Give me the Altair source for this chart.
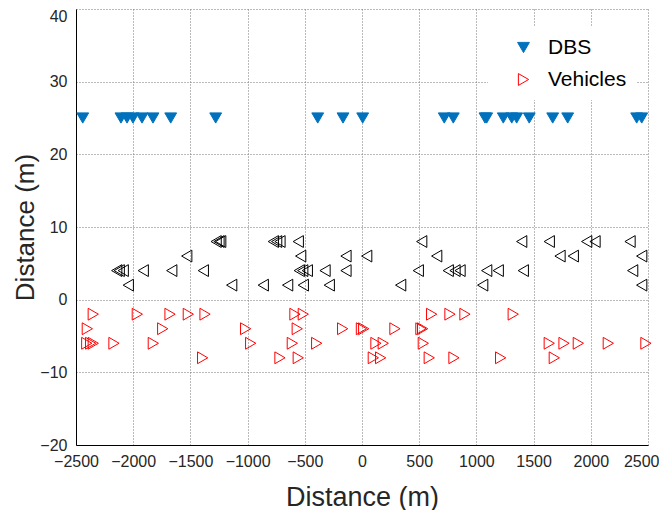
import altair as alt
import pandas as pd

# DBS positions (y = 25)
dbs_x = [-2441, -2107, -2054, -2002, -1923, -1827, -1672, -1279, -387, -166, 6,
         719, 798, 1075, 1090, 1235, 1309, 1352, 1462, 1667, 1798, 2401, 2445]
dbs_y = 25

# Black vehicles (left-pointing), by lane
left_lane8 = [-1275, -1250, -1235, -775, -746, -717, -557, 522, 1396, 1637, 1964, 2037, 2343]
left_lane6 = [-1532, -536, -140, 41, 653, 1731, 1847, 2445]
left_lane4 = [-2144, -2122, -2087, -1912, -1663, -1387, -548, -518, -478, -323, -140,
              492, 754, 813, 857, 1090, 1191, 1410, 2366]
left_lane2 = [-2043, -1139, -863, -650, -513, -286, 338, 1055, 2445]

# Red vehicles (right-pointing), by lane
right_lane2 = [-2349, -1964, -1678, -1518, -1372, -586, -513, 609, 769, 900, 1322]
right_lane4 = [-2401, -1742, -1017, -566, -169, -5, 15, 288, 515, 530]
right_lane6 = [-2406, -2372, -2349, -2168, -1824, -973, -609, -396, 122, 186, 536,
               1637, 1766, 1891, 2153, 2482]
right_lane8 = [-1393, -717, -557, 99, 163, 588, 804, 1212, 1681]

x_ticks = list(range(-2500, 2501, 500))
y_ticks = list(range(-20, 41, 10))

series = ["DBS", "Vehicles"]

main_rows = []
for v in dbs_x:
    main_rows.append({"x": v, "y": dbs_y, "series": "DBS"})
for lane, xs in [(-2, right_lane2), (-4, right_lane4), (-6, right_lane6), (-8, right_lane8)]:
    for v in xs:
        main_rows.append({"x": v, "y": lane, "series": "Vehicles"})
df_main = pd.DataFrame(main_rows)

left_rows = []
for lane, xs in [(8, left_lane8), (6, left_lane6), (4, left_lane4), (2, left_lane2)]:
    for v in xs:
        left_rows.append({"x": v, "y": lane})
df_left = pd.DataFrame(left_rows)

xscale = alt.Scale(domain=[-2500, 2500], nice=False)
yscale = alt.Scale(domain=[-20, 40], nice=False)

xenc = alt.X("x:Q", scale=xscale, title="Distance (m)",
             axis=alt.Axis(values=x_ticks, format="d", labelOverlap=False,
                           labelAlign=alt.condition("datum.value == 2500", alt.value("right"), alt.value("center")),
                           labelOffset=alt.condition("datum.value == 2500", alt.value(11), alt.value(0))))
yenc = alt.Y("y:Q", scale=yscale, title="Distance (m)",
             axis=alt.Axis(values=y_ticks, format="d", labelOverlap=False,
                           labelBaseline=alt.condition("datum.value == 40", alt.value("top"), alt.value("middle")),
                           labelOffset=alt.condition("datum.value == 40", alt.value(-1), alt.value(0))))

left_layer = alt.Chart(df_left).mark_point(
    shape="triangle-left", size=140, filled=False, color="black", strokeWidth=1, opacity=1
).encode(x=xenc, y=yenc)

main_layer = alt.Chart(df_main).mark_point(size=140, strokeWidth=1, opacity=1, filled=True).encode(
    x=xenc, y=yenc,
    shape=alt.Shape("series:N", scale=alt.Scale(domain=series, range=["triangle-down", "triangle-right"]),
                    legend=alt.Legend(title=None)),
    fill=alt.Fill("series:N", scale=alt.Scale(domain=series, range=["#0072BD", "transparent"]),
                  legend=alt.Legend(title=None)),
    stroke=alt.Stroke("series:N", scale=alt.Scale(domain=series, range=["#0072BD", "#FF0000"]),
                      legend=alt.Legend(title=None)),
)

chart = alt.layer(left_layer, main_layer).properties(
    width=572, height=436,
    autosize=alt.AutoSizeParams(type="none"),
    padding={"left": 68, "top": 1, "right": 11, "bottom": 65},
).configure_view(stroke=None).configure_axis(
    grid=True, gridColor="#777777", gridDash=[1, 2], gridOpacity=1, gridWidth=1,
    domainColor="black", domainWidth=1, ticks=False,
    labelFont="Liberation Sans", labelFontSize=16, labelColor="#262626",
    titleFont="Liberation Sans", titleFontSize=27, titleFontWeight="normal", titleColor="#262626",
).configure_axisX(
    labelPadding=8, titlePadding=15
).configure_axisY(
    labelPadding=9, titlePadding=1, titleFontSize=26
).configure_legend(
    orient="none", legendX=412, legendY=18, fillColor="white", padding=10, symbolOffset=15,
    labelFont="Liberation Sans", labelFontSize=21, labelColor="black",
    symbolSize=140, symbolStrokeWidth=1, rowPadding=10, labelOffset=14,
)

chart.save("out.html", embed_options={"renderer": "svg", "actions": False})
